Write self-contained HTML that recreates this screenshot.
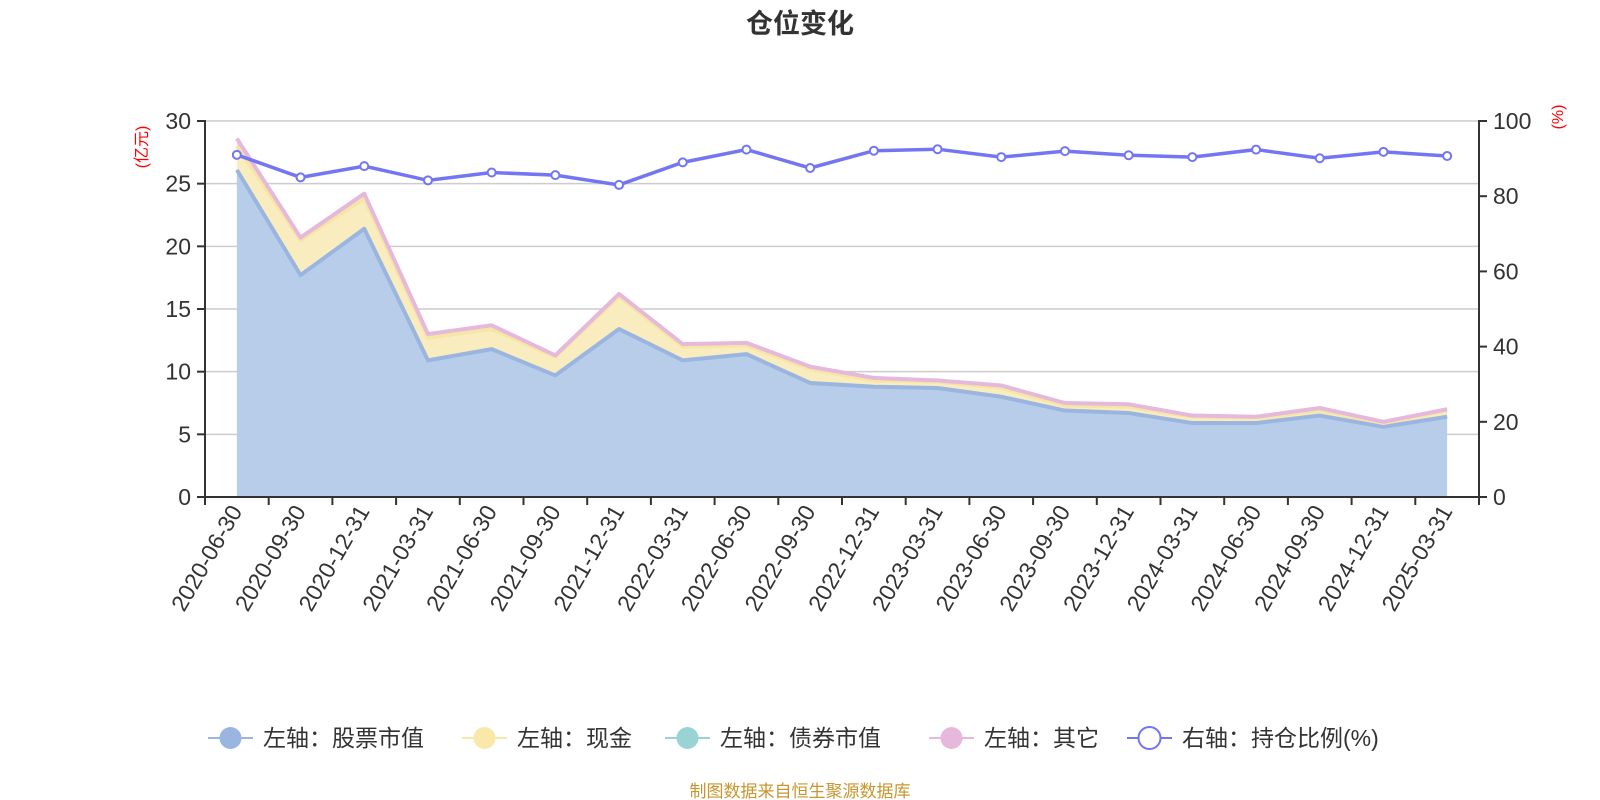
<!DOCTYPE html>
<html><head><meta charset="utf-8"><style>
body{margin:0;background:#fff;}
svg{display:block;font-family:"Liberation Sans","Noto Sans CJK SC",sans-serif;}
</style></head><body>
<svg id="chart" width="1600" height="800">
<text x="800" y="33" text-anchor="middle" font-size="27" font-weight="bold" fill="#333">仓位变化</text>
<text transform="translate(147,147) rotate(-90)" text-anchor="middle" font-size="16" fill="red">(亿元)</text>
<text transform="translate(1563,117) rotate(-90)" text-anchor="middle" font-size="16" fill="red">(%)</text>
<g id="grid"></g><g id="areas"></g><g id="alines"></g><g id="axes"></g><g id="line"></g><g id="legend"></g>
<text x="800" y="797" text-anchor="middle" font-size="17" fill="#c8962d">制图数据来自恒生聚源数据库</text>
</svg>
<script>
const categories=["2020-06-30","2020-09-30","2020-12-31","2021-03-31","2021-06-30","2021-09-30","2021-12-31","2022-03-31","2022-06-30","2022-09-30","2022-12-31","2023-03-31","2023-06-30","2023-09-30","2023-12-31","2024-03-31","2024-06-30","2024-09-30","2024-12-31","2025-03-31"];
const stockValues=[26.1,17.7,21.4,10.9,11.8,9.7,13.4,10.9,11.4,9.1,8.8,8.7,8.0,6.9,6.7,5.9,5.9,6.5,5.6,6.4];
const cashValues=[1.9,2.8,2.4,1.8,1.6,1.5,2.6,1.1,0.7,1.1,0.5,0.5,0.7,0.4,0.5,0.5,0.4,0.4,0.3,0.5];
const bondValues=[0,0,0,0,0,0,0,0,0,0,0,0,0,0,0,0,0,0,0,0];
const otherValues=[0.6,0.2,0.4,0.3,0.3,0.1,0.2,0.2,0.2,0.2,0.2,0.1,0.2,0.2,0.2,0.1,0.1,0.2,0.1,0.1];
const ratioValues=[91,85,88,84.2,86.3,85.6,83,89,92.4,87.5,92.1,92.5,90.4,92,90.9,90.4,92.4,90.1,91.8,90.7];
const leftTicks=[0,5,10,15,20,25,30];
const rightTicks=[0,20,40,60,80,100];
const NS="http://www.w3.org/2000/svg";
const X0=205,X1=1479,Y0=497,Y1=121;
const step=(X1-X0)/categories.length;
const xs=i=>X0+step*(i+0.5);
const yL=v=>Y0-(v/30)*(Y0-Y1);
const yR=v=>Y0-(v/100)*(Y0-Y1);
function mk(t,a,p){const e=document.createElementNS(NS,t);for(const k in a)e.setAttribute(k,a[k]);p.appendChild(e);return e;}
const grid=document.getElementById('grid'),areas=document.getElementById('areas'),alines=document.getElementById('alines'),axes=document.getElementById('axes'),line=document.getElementById('line'),legend=document.getElementById('legend');
leftTicks.forEach(v=>{
 if(v>0){const g=mk('line',{x1:X0,x2:X1,y1:yL(v),y2:yL(v),stroke:'#ccc','stroke-width':1.5},grid);
 
 }
 mk('line',{x1:X0-8,x2:X0,y1:yL(v),y2:yL(v),stroke:'#333','stroke-width':2},axes);
 const t=mk('text',{x:X0-14,y:yL(v)+8,'text-anchor':'end','font-size':23,fill:'#333'},axes);t.textContent=v;
 
 
});
rightTicks.forEach(v=>{
 mk('line',{x1:X1,x2:X1+8,y1:yR(v),y2:yR(v),stroke:'#333','stroke-width':2},axes);
 const t=mk('text',{x:X1+14,y:yR(v)+8,'font-size':23,fill:'#333'},axes);t.textContent=v;
 
 
});
mk('line',{x1:X0,x2:X0,y1:Y1-1,y2:Y0,stroke:'#333','stroke-width':2},axes);
mk('line',{x1:X1,x2:X1,y1:Y1-1,y2:Y0,stroke:'#333','stroke-width':2},axes);
mk('line',{x1:X0,x2:X1,y1:Y0,y2:Y0,stroke:'#333','stroke-width':2},axes);
for(let i=0;i<=categories.length;i++){mk('line',{x1:X0+step*i,x2:X0+step*i,y1:Y0,y2:Y0+8,stroke:'#333','stroke-width':2},axes);}
categories.forEach((c,i)=>{
 const t=mk('text',{transform:`translate(${xs(i)+6},${Y0+14}) rotate(-60)`,'text-anchor':'end','font-size':23,fill:'#333'},axes);t.textContent=c;
 
 
});
const series=[
 {vals:stockValues,fill:'#b8cde9',stroke:'#9ab5e0',name:'stock-area'},
 {vals:cashValues,fill:'#f9edbf',stroke:'#f6e6a6',name:'cash-area'},
 {vals:bondValues,fill:'#a7dbdb',stroke:'none',name:'bond-area'},
 {vals:otherValues,fill:'#f1d7ea',stroke:'#e6b8dc',name:'other-area'}];
let base=categories.map(()=>0);
series.forEach(s=>{
 const top=base.map((b,i)=>b+s.vals[i]);
 let d='M'+top.map((v,i)=>xs(i)+','+yL(v)).join('L');
 for(let i=base.length-1;i>=0;i--)d+='L'+xs(i)+','+yL(base[i]);
 const a=mk('path',{d:d+'Z',fill:s.fill},areas);
 
 
 const l=mk('polyline',{points:top.map((v,i)=>xs(i)+','+yL(v)).join(' '),fill:'none',stroke:s.stroke,'stroke-width':4,'stroke-linejoin':'round'},alines);
 
 
 base=top;
});
const pl=mk('polyline',{points:ratioValues.map((v,i)=>xs(i)+','+yR(v)).join(' '),fill:'none',stroke:'#7475f2','stroke-width':3.5},line);


ratioValues.forEach((v,i)=>{const c=mk('circle',{cx:xs(i),cy:yR(v),r:4,fill:'#fff',stroke:'#7475f2','stroke-width':2},line);
 
 });
const leg=[['左轴：股票市值','#9ab5e0',208,false],['左轴：现金','#f9e8a8',462,false],['左轴：债券市值','#9ad3d3',665,false],['左轴：其它','#e6b8dc',929,false],['右轴：持仓比例(%)','#7475f2',1127,true]];
leg.forEach(([txt,col,x,hollow])=>{
 const g=mk('g',{},legend);
 
 
 mk('line',{x1:x,x2:x+45,y1:738,y2:738,stroke:col,'stroke-width':2},g);
 mk('circle',{cx:x+22.5,cy:738,r:11,fill:hollow?'#fff':col,stroke:col,'stroke-width':hollow?2:0},g);
 const t=mk('text',{x:x+55,y:746,'font-size':23,fill:'#333'},g);t.textContent=txt;
});
</script>
</body></html>
